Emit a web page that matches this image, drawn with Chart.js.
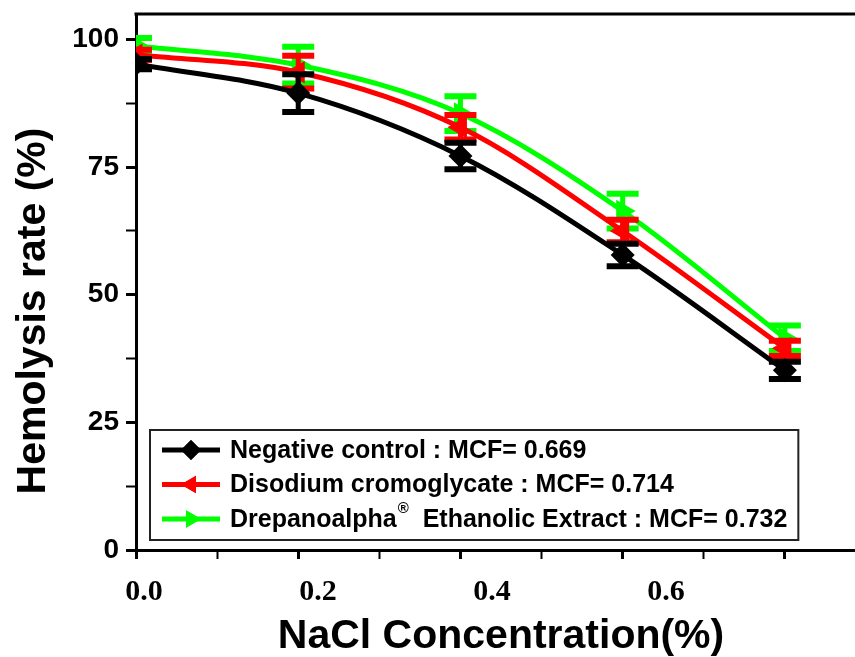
<!DOCTYPE html>
<html>
<head>
<meta charset="utf-8">
<title>Hemolysis rate vs NaCl concentration</title>
<script src="https://cdn.jsdelivr.net/npm/chart.js@4.4.1/dist/chart.umd.min.js"></script>
<style>
  html, body { margin: 0; padding: 0; background: #fff; overflow: hidden; }
  #wrap { position: absolute; left: 0; top: 0; width: 880px; height: 657px; }
</style>
</head>
<body>
<div id="wrap"><canvas id="chart" width="880" height="657"></canvas></div>
<script>
// NaCl concentration (%) of each measurement
const concentrations = [0, 0.2, 0.4, 0.6, 0.8]

// hemolysis rate (%) and its error, per treatment
const negativeControl = [95.2, 89.5, 77.2, 57.8, 35.2]
const negativeControlErr = [1.0, 3.7, 2.6, 2.2, 1.7]
const cromoglycate = [97.0, 93.6, 82.8, 62.5, 39.5]
const cromoglycateErr = [1.0, 3.2, 2.4, 2.2, 1.5]
const drepanoalpha = [98.8, 95.0, 85.5, 66.4, 41.5]
const drepanoalphaErr = [1.5, 3.6, 3.4, 3.4, 2.5]

const seriesLabels = [
  'Negative control : MCF= 0.669',
  'Disodium cromoglycate : MCF= 0.714',
  'Drepanoalpha®  Ethanolic Extract : MCF= 0.732',
]

// printed tick labels of the x axis
const xTickLabels = ['0.0', '0.2', '0.4', '0.6']
const yTickLabels = [0, 25, 50, 75, 100]

const xTitle = 'NaCl Concentration(%)'
const yTitle = 'Hemolysis rate (%)'

const SANS = '"Liberation Sans", Arial, Helvetica, sans-serif'
const SERIF = '"Liberation Serif", "Times New Roman", serif'

const toPoints = (vals) => vals.map((v, i) => ({ x: concentrations[i], y: v }))

function makeSet(label, vals, errs, color, pointStyle, rotation, radius) {
  return {
    label,
    data: toPoints(vals),
    errors: errs,
    borderColor: color,
    backgroundColor: color,
    borderWidth: 5,
    cubicInterpolationMode: 'monotone',
    pointStyle,
    rotation,
    pointRadius: radius,
    pointBorderWidth: 0,
    pointBackgroundColor: color,
  }
}

const isStep = (v, step) => Math.abs(v / step - Math.round(v / step)) < 1e-6

// error bars, clipped to the plot area like the points
const errorBars = {
  id: 'errorBars',
  afterDatasetDraw(chart, args) {
    const { ctx, chartArea, scales } = chart
    const ds = chart.data.datasets[args.index]
    ctx.save()
    ctx.beginPath()
    ctx.rect(chartArea.left, chartArea.top, chartArea.right - chartArea.left, chartArea.bottom - chartArea.top)
    ctx.clip()
    ctx.strokeStyle = ds.borderColor
    ds.errors.forEach((e, i) => {
      const x = scales.x.getPixelForValue(ds.data[i].x)
      const yTop = scales.y.getPixelForValue(ds.data[i].y + e)
      const yBot = scales.y.getPixelForValue(ds.data[i].y - e)
      ctx.lineWidth = 5
      ctx.beginPath()
      ctx.moveTo(x, yTop)
      ctx.lineTo(x, yBot)
      ctx.stroke()
      ctx.lineWidth = 6
      ctx.beginPath()
      ctx.moveTo(x - 16, yTop)
      ctx.lineTo(x + 16, yTop)
      ctx.moveTo(x - 16, yBot)
      ctx.lineTo(x + 16, yBot)
      ctx.stroke()
    })
    ctx.restore()
  }
}

// top frame line, axis titles and the boxed legend
const decorations = {
  id: 'decorations',
  afterDraw(chart) {
    const { ctx, chartArea } = chart
    ctx.save()
    ctx.strokeStyle = '#000'
    ctx.lineWidth = 3
    ctx.beginPath()
    ctx.moveTo(chartArea.left - 1.5, chartArea.top)
    ctx.lineTo(chartArea.right, chartArea.top)
    ctx.stroke()

    ctx.fillStyle = '#000'
    ctx.font = 'bold 41px ' + SANS
    ctx.textAlign = 'center'
    ctx.textBaseline = 'middle'
    ctx.fillText(xTitle, (chartArea.left + chartArea.right) / 2, 637)
    ctx.save()
    ctx.translate(34, 311)
    ctx.rotate(-Math.PI / 2)
    ctx.fillText(yTitle, 0, 0)
    ctx.restore()

    // legend
    const left = chartArea.left + 14
    const top = 430
    const rowH = 34.5
    const textFont = 'bold 25px ' + SANS
    ctx.textAlign = 'left'
    let maxRight = 0
    chart.data.datasets.forEach((ds, i) => {
      const y = top + 20 + i * rowH
      ctx.strokeStyle = ds.borderColor
      ctx.fillStyle = ds.borderColor
      ctx.lineWidth = 5
      ctx.beginPath()
      ctx.moveTo(left + 12, y)
      ctx.lineTo(left + 70, y)
      ctx.stroke()
      Chart.helpers.drawPoint(ctx, { pointStyle: ds.pointStyle, rotation: ds.rotation, radius: 10, borderWidth: 0 }, left + 41, y)
      ctx.fill()

      ctx.fillStyle = '#000'
      ctx.font = textFont
      let x = left + 80
      const parts = ds.label.split('®')
      ctx.fillText(parts[0], x, y + 1)
      x += ctx.measureText(parts[0]).width
      if (parts.length > 1) {
        ctx.font = 'bold 15px ' + SANS
        ctx.fillText('®', x + 1, y - 10)
        x += ctx.measureText('®').width + 1
        ctx.font = textFont
        ctx.fillText(parts[1], x, y + 1)
        x += ctx.measureText(parts[1]).width
      }
      maxRight = Math.max(maxRight, x)
    })
    ctx.strokeStyle = '#222'
    ctx.lineWidth = 2
    ctx.strokeRect(left, top, maxRight + 11 - left, 110)
    ctx.restore()
  }
}

new Chart(document.getElementById('chart'), {
  type: 'line',
  data: {
    datasets: [
      makeSet(seriesLabels[0], negativeControl, negativeControlErr, '#000000', 'rectRot', 0, 12),
      makeSet(seriesLabels[1], cromoglycate, cromoglycateErr, '#ff0000', 'triangle', -90, 13),
      makeSet(seriesLabels[2], drepanoalpha, drepanoalphaErr, '#00ff00', 'triangle', 90, 13),
    ]
  },
  options: {
    responsive: false,
    animation: false,
    devicePixelRatio: 1,
    layout: { padding: { left: 0, top: 14, right: 14, bottom: 0 } },
    plugins: {
      legend: { display: false },
      tooltip: { enabled: false },
    },
    scales: {
      x: {
        type: 'linear',
        position: 'bottom',
        weight: 0,
        min: 0,
        max: 0.9,
        ticks: { display: false, stepSize: 0.1, autoSkip: false, includeBounds: false },
        grid: {
          drawOnChartArea: false,
          drawTicks: true,
          tickLength: 9,
          color: '#000',
          tickColor: '#000',
          tickWidth: (c) => (isStep(c.tick.value, 0.2) ? 3 : 2),
        },
        border: { display: true, color: '#000', width: 3 },
        afterFit: (scale) => {
          scale.height = 10
          scale.paddingLeft = 0
          scale.paddingRight = 0
        },
      },
      // label row of the x axis, printed on its own spacing
      xLabels: {
        type: 'linear',
        position: 'bottom',
        weight: 1,
        min: -0.0092,
        max: 0.8299,
        ticks: {
          stepSize: 0.2,
          autoSkip: false,
          includeBounds: false,
          maxRotation: 0,
          padding: 14,
          color: '#000',
          font: { family: SERIF, size: 30, weight: 'bold' },
          callback: (v) => xTickLabels.find((t) => Math.abs(parseFloat(t) - v) < 1e-6) || '',
        },
        grid: { display: false, drawTicks: false },
        border: { display: false },
        afterFit: (scale) => {
          scale.height = 97
          scale.paddingLeft = 0
          scale.paddingRight = 0
        },
      },
      y: {
        type: 'linear',
        min: 0,
        max: 105,
        ticks: {
          stepSize: 12.5,
          autoSkip: false,
          includeBounds: false,
          padding: 7,
          color: '#000',
          font: { family: SANS, size: 28, weight: 'bold' },
          callback: (v) => (yTickLabels.includes(v) ? v : ''),
        },
        grid: {
          drawOnChartArea: false,
          drawTicks: true,
          tickLength: 10,
          color: '#000',
          tickColor: '#000',
          tickWidth: (c) => (isStep(c.tick.value, 25) ? 3 : 2),
        },
        border: { display: true, color: '#000', width: 3 },
        afterFit: (scale) => {
          scale.width = 136
          scale.paddingTop = 0
          scale.paddingBottom = 0
        },
      },
    },
  },
  plugins: [errorBars, decorations],
})
</script>
</body>
</html>
